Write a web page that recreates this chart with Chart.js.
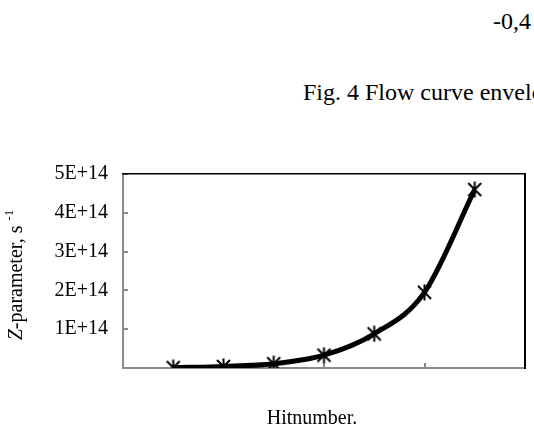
<!DOCTYPE html>
<html>
<head>
<meta charset="UTF-8">
<title>Z-parameter vs hit number</title>
<script src="https://cdn.jsdelivr.net/npm/chart.js"></script>
<style>
  html, body { margin: 0; padding: 0; background: #ffffff; }
  body { width: 534px; height: 430px; overflow: hidden; position: relative; font-family: 'Liberation Serif', 'Times New Roman', serif; color: #000; }
  .txt { position: absolute; font-size: 24px; line-height: 24px; white-space: nowrap; }
  #wrap { position: absolute; left: 0; top: 142px; width: 538px; height: 288px; }
</style>
</head>
<body>
<div class="txt" style="left:493px; top:9px;">-0,4</div>
<div class="txt" style="left:303px; top:80px;">Fig. 4 Flow curve envelope</div>
<div id="wrap"><canvas id="chart"></canvas></div>
<script>
// data
const hitNumbers = [1, 2, 3, 4, 5, 6, 7];
const zValues = [1e12, 4e12, 1.1e13, 3.3e13, 8.8e13, 1.95e14, 4.6e14];
const yTicks = [0, 1e14, 2e14, 3e14, 4e14, 5e14];
const xTicks = [0, 2, 4, 6, 8];

const FONT = "'Liberation Serif', 'Times New Roman', serif";
const GREY = '#8a8a8a';

// Excel-like star marker: X with a vertical stroke
const marker = document.createElement('canvas');
marker.width = 17; marker.height = 17;
(function () {
  const c = marker.getContext('2d');
  c.strokeStyle = '#000';
  c.lineWidth = 2;
  c.beginPath();
  c.moveTo(2, 2); c.lineTo(15, 15);
  c.moveTo(15, 2); c.lineTo(2, 15);
  c.moveTo(8.5, 0.5); c.lineTo(8.5, 16.5);
  c.stroke();
})();

// axis titles: rotated y title with italic Z and superscript -1, x title a bit left of centre
const axisTitles = {
  id: 'axisTitles',
  afterDraw(chart) {
    const { ctx, chartArea } = chart;
    const cy = (chartArea.top + chartArea.bottom) / 2 + 4;
    ctx.save();
    ctx.fillStyle = '#000';
    ctx.textBaseline = 'alphabetic';
    ctx.font = '20px ' + FONT;
    ctx.textAlign = 'center';
    ctx.fillText('Hitnumber.', 312, 424 - 142);
    ctx.textAlign = 'left';
    ctx.translate(22, cy);
    ctx.rotate(-Math.PI / 2);
    const parts = [
      { t: 'Z', f: 'italic 20px ' + FONT, dy: 0 },
      { t: '-parameter, s ', f: '20px ' + FONT, dy: 0 },
      { t: '-1', f: '13px ' + FONT, dy: -9 }
    ];
    let w = 0;
    parts.forEach(p => { ctx.font = p.f; w += ctx.measureText(p.t).width; });
    let x = -w / 2;
    parts.forEach(p => {
      ctx.font = p.f;
      ctx.fillText(p.t, x, p.dy);
      x += ctx.measureText(p.t).width;
    });
    ctx.restore();
  }
};

new Chart(document.getElementById('chart').getContext('2d'), {
  type: 'line',
  data: {
    datasets: [{
      data: hitNumbers.map((h, i) => ({ x: h, y: zValues[i] })),
      borderColor: '#000',
      borderWidth: 5,
      cubicInterpolationMode: 'monotone',
      pointStyle: marker,
      pointRadius: 8,
      fill: false
    }]
  },
  options: {
    responsive: true,
    maintainAspectRatio: false,
    animation: false,
    layout: { padding: { top: 24, right: 4, left: 0, bottom: 0 } },
    plugins: { legend: { display: false }, tooltip: { enabled: false } },
    scales: {
      x: {
        type: 'linear',
        min: 0, max: 8,
        afterBuildTicks: s => { s.ticks = xTicks.map(v => ({ value: v })); },
        afterFit: s => { s.height = 62; },
        ticks: { callback: () => '', padding: 0 },
        grid: { drawOnChartArea: false, drawTicks: true, tickLength: -5, color: GREY, lineWidth: 2 },
        border: { color: GREY, width: 2 }
      },
      y: {
        min: 0, max: 5e14,
        afterBuildTicks: s => { s.ticks = yTicks.map(v => ({ value: v })); },
        afterFit: s => { s.width = 123; },
        ticks: {
          color: '#000',
          font: { family: FONT, size: 20 },
          padding: 20,
          callback: v => v === 0 ? '' : (v / 1e14) + 'E+14'
        },
        grid: { drawOnChartArea: false, drawTicks: true, tickLength: -5, color: GREY, lineWidth: 2 },
        border: { color: GREY, width: 2 }
      },
      x2: {
        type: 'linear', position: 'top', min: 0, max: 8,
        afterFit: s => { s.height = 0; },
        ticks: { display: false },
        grid: { display: false },
        border: { color: '#000', width: 1.5 }
      },
      y2: {
        type: 'linear', position: 'right', min: 0, max: 5e14,
        afterFit: s => { s.width = 0; },
        ticks: { display: false },
        grid: { display: false },
        border: { color: '#000', width: 2 }
      }
    }
  },
  plugins: [axisTitles]
});
</script>
</body>
</html>
